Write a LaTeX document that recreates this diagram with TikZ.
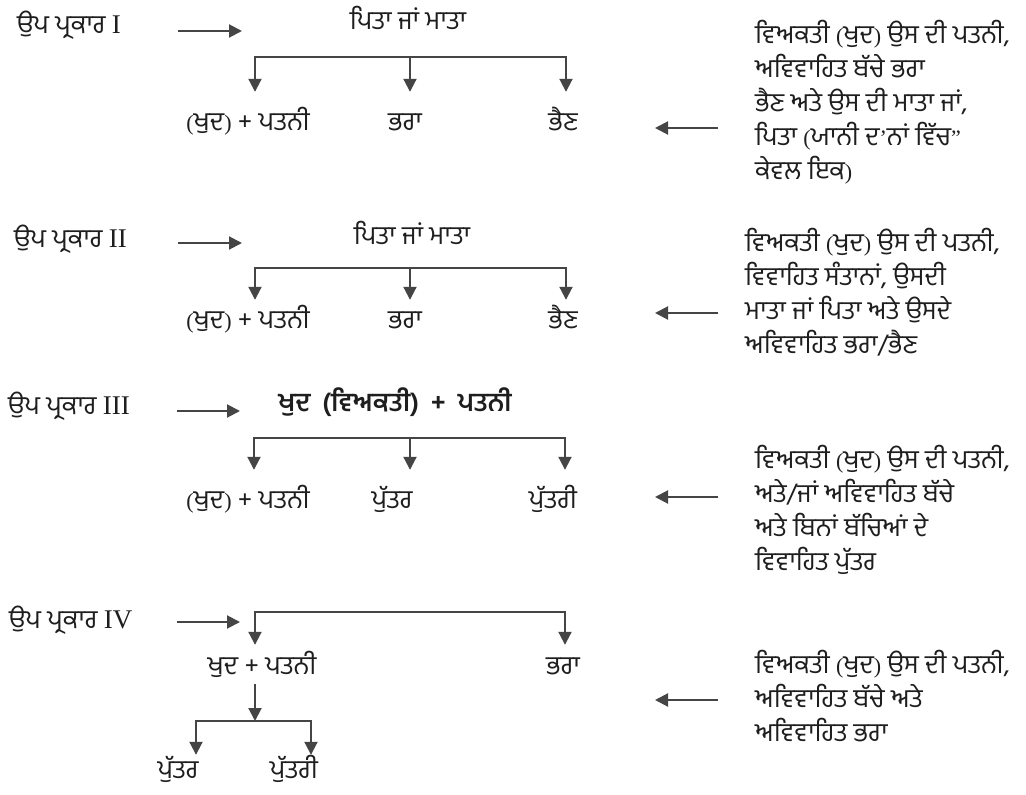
\documentclass[tikz,border=0pt]{standalone}
\usepackage{fontspec}
\newfontfamily\gur[Script=Gurmukhi]{Hind Jalandhar}
\newfontfamily\serifrm{Liberation Serif}
\usetikzlibrary{arrows.meta}
\definecolor{ln}{HTML}{454545}
\definecolor{tx}{HTML}{1E1E1E}
\newcommand\rmsz{\serifrm\fontsize{22}{26}\selectfont}
\newcommand\romn[1]{{\serifrm\fontsize{27}{30}\selectfont #1}}
\newcommand\lpr{{\rmsz (}}
\newcommand\rpr{{\rmsz )}}
\tikzset{
  conn/.style={draw=ln, line width=2pt},
  arr/.style={conn, -{Triangle[length=13pt,width=13pt]}},
  lbl/.style={inner sep=0pt, text=tx, font=\gur\fontsize{26}{30}\selectfont, text height=18pt, text depth=6pt},
  blk/.style={inner sep=0pt, text=tx, font=\gur\fontsize{26}{34}\selectfont, align=left, anchor=north west},
}
\begin{document}
\begin{tikzpicture}[x=1pt,y=-1pt]
\useasboundingbox[fill=white] (0,0) rectangle (1026,795);

% ---------- Row I ----------
\node[lbl, anchor=west] (p1) at (17,28) {ਉਪ ਪ੍ਰਕਾਰ \romn{I}};
\coordinate (p1s) at (178,31); \coordinate (p1e) at (242,31);
\draw[arr] (p1s) -- (p1e);
\node[lbl] (t1) at (408,23) {ਪਿਤਾ ਜਾਂ ਮਾਤਾ};
\coordinate (b1a) at (255,57); \coordinate (b1b) at (410,57); \coordinate (b1c) at (566,57);
\node[lbl] (c1a) at (248,124) {\lpr ਖੁਦ\rpr{} + ਪਤਨੀ};
\node[lbl] (c1b) at (405,124) {ਭਰਾ};
\node[lbl] (c1c) at (563,124) {ਭੈਣ};
\draw[arr, shorten >=20pt] (b1b) -- (b1a) -- (b1a |- c1a.north);
\draw[arr, shorten >=20pt] (b1b) -- (b1c) -- (b1c |- c1c.north);
\draw[arr, shorten >=20pt] (b1b) -- (b1b |- c1b.north);
\node[blk] (r1) at (755,20) {ਵਿਅਕਤੀ \lpr ਖੁਦ\rpr{} ਉਸ ਦੀ ਪਤਨੀ,\\ਅਵਿਵਾਹਿਤ ਬੱਚੇ ਭਰਾ\\ਭੈਣ ਅਤੇ ਉਸ ਦੀ ਮਾਤਾ ਜਾਂ,\\ਪਿਤਾ \lpr ਯਾਨੀ ਦ{\rmsz ’}ਨਾਂ ਵਿੱਚ{\rmsz ”}\\ਕੇਵਲ ਇਕ\rpr};
\coordinate (q1s) at (718,128); \coordinate (q1e) at (655,128);
\draw[arr] (q1s) -- (q1e);

% ---------- Row II ----------
\node[lbl, anchor=west] (p2) at (14,241) {ਉਪ ਪ੍ਰਕਾਰ \romn{II}};
\coordinate (p2s) at (178,243); \coordinate (p2e) at (242,243);
\draw[arr] (p2s) -- (p2e);
\node[lbl] (t2) at (412,238) {ਪਿਤਾ ਜਾਂ ਮਾਤਾ};
\coordinate (b2a) at (255,268); \coordinate (b2b) at (410,268); \coordinate (b2c) at (566,268);
\node[lbl] (c2a) at (248,322) {\lpr ਖੁਦ\rpr{} + ਪਤਨੀ};
\node[lbl] (c2b) at (405,322) {ਭਰਾ};
\node[lbl] (c2c) at (563,322) {ਭੈਣ};
\draw[arr, shorten >=10pt] (b2b) -- (b2a) -- (b2a |- c2a.north);
\draw[arr, shorten >=10pt] (b2b) -- (b2c) -- (b2c |- c2c.north);
\draw[arr, shorten >=10pt] (b2b) -- (b2b |- c2b.north);
\node[blk] (r2) at (745,228) {ਵਿਅਕਤੀ \lpr ਖੁਦ\rpr{} ਉਸ ਦੀ ਪਤਨੀ,\\ਵਿਵਾਹਿਤ ਸੰਤਾਨਾਂ, ਉਸਦੀ\\ਮਾਤਾ ਜਾਂ ਪਿਤਾ ਅਤੇ ਉਸਦੇ\\ਅਵਿਵਾਹਿਤ ਭਰਾ/ਭੈਣ};
\coordinate (q2s) at (718,313); \coordinate (q2e) at (655,313);
\draw[arr] (q2s) -- (q2e);

% ---------- Row III ----------
\node[lbl, anchor=west] (p3) at (8,408) {ਉਪ ਪ੍ਰਕਾਰ \romn{III}};
\coordinate (p3s) at (177,411); \coordinate (p3e) at (240,411);
\draw[arr] (p3s) -- (p3e);
\node[lbl, font=\gur\bfseries\fontsize{26}{30}\selectfont] (t3) at (395,405) {ਖੁਦ\hspace{12pt}(ਵਿਅਕਤੀ)\hspace{12pt}+\hspace{12pt}ਪਤਨੀ};
\coordinate (b3a) at (254,438); \coordinate (b3b) at (410,438); \coordinate (b3c) at (565,438);
\node[lbl] (c3a) at (248,502) {\lpr ਖੁਦ\rpr{} + ਪਤਨੀ};
\node[lbl] (c3b) at (392,502) {ਪੁੱਤਰ};
\node[lbl] (c3c) at (553,502) {ਪੁੱਤਰੀ};
\draw[arr, shorten >=20pt] (b3b) -- (b3a) -- (b3a |- c3a.north);
\draw[arr, shorten >=20pt] (b3b) -- (b3c) -- (b3c |- c3c.north);
\draw[arr, shorten >=20pt] (b3b) -- (b3b |- c3b.north);
\node[blk] (r3) at (755,445) {ਵਿਅਕਤੀ \lpr ਖੁਦ\rpr{} ਉਸ ਦੀ ਪਤਨੀ,\\ਅਤੇ/ਜਾਂ ਅਵਿਵਾਹਿਤ ਬੱਚੇ\\ਅਤੇ ਬਿਨਾਂ ਬੱਚਿਆਂ ਦੇ\\ਵਿਵਾਹਿਤ ਪੁੱਤਰ};
\coordinate (q3s) at (718,497); \coordinate (q3e) at (655,497);
\draw[arr] (q3s) -- (q3e);

% ---------- Row IV ----------
\node[lbl, anchor=west] (p4) at (9,622) {ਉਪ ਪ੍ਰਕਾਰ \romn{IV}};
\coordinate (p4s) at (177,622); \coordinate (p4e) at (240,622);
\draw[arr] (p4s) -- (p4e);
\coordinate (b4a) at (255,612); \coordinate (b4c) at (565,612);
\node[lbl] (c4a) at (262,668) {ਖੁਦ + ਪਤਨੀ};
\node[lbl] (c4c) at (563,668) {ਭਰਾ};
\draw[arr, shorten >=11pt] (b4c) -- (b4a) -- (b4a |- c4a.north);
\draw[arr, shorten >=11pt] (b4a) -- (b4c) -- (b4c |- c4c.north);
\coordinate (d4a) at (196,721); \coordinate (d4b) at (255,721); \coordinate (d4c) at (311,721);
\draw[arr, shorten <=4pt] (b4a |- c4a.south) -- (d4b);
\node[lbl] (e4a) at (178,772) {ਪੁੱਤਰ};
\node[lbl] (e4c) at (294,772) {ਪੁੱਤਰੀ};
\draw[arr, shorten >=5pt] (d4b) -- (d4a) -- (d4a |- e4a.north);
\draw[arr, shorten >=5pt] (d4b) -- (d4c) -- (d4c |- e4c.north);
\node[blk] (r4) at (755,650) {ਵਿਅਕਤੀ \lpr ਖੁਦ\rpr{} ਉਸ ਦੀ ਪਤਨੀ,\\ਅਵਿਵਾਹਿਤ ਬੱਚੇ ਅਤੇ\\ਅਵਿਵਾਹਿਤ ਭਰਾ};
\coordinate (q4s) at (718,700); \coordinate (q4e) at (655,700);
\draw[arr] (q4s) -- (q4e);
\end{tikzpicture}
\end{document}
